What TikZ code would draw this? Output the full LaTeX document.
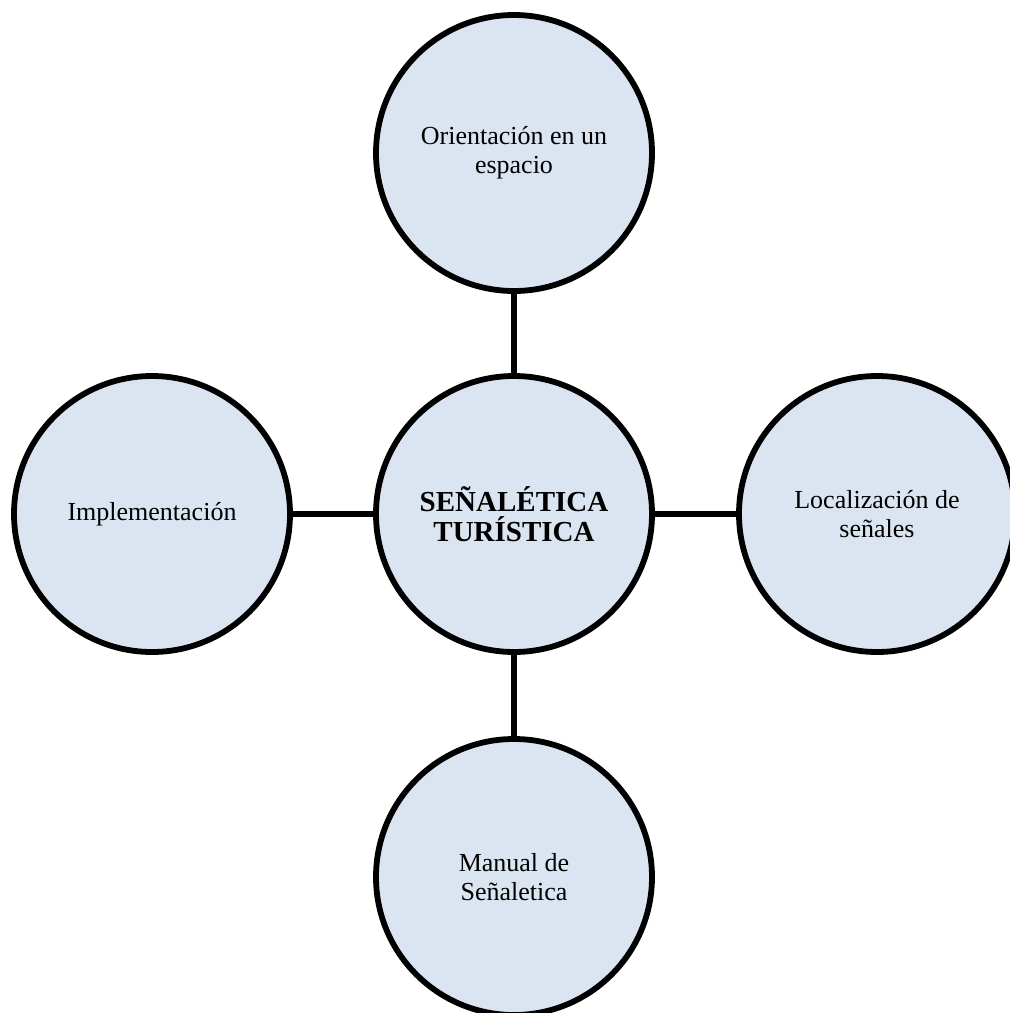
\documentclass[tikz,border=0pt]{standalone}
\usepackage{fontspec}
\setmainfont{Liberation Serif}
\usepackage{xcolor}
\usepackage{tikz}

\begin{document}
\begin{tikzpicture}[x = {(0.5pt,0pt)},
                    y = {(0pt,-0.5pt)}]


  % BOUNDING BOX
  \useasboundingbox (0, 0) rectangle (1009, 1013);


  % DEF POINTS
  \coordinate (p_center) at (514, 514);
  \coordinate (p_top) at (514, 153);
  \coordinate (p_bottom) at (514, 877);
  \coordinate (p_left) at (152, 514);
  \coordinate (p_right) at (877, 514);


  % NODES STYLE
  \definecolor{edgecolor_s}{rgb}{ 0,0,0 }
  \definecolor{facetcolor_s}{rgb}{ 0.8588,0.8980,0.9451 }
  \tikzstyle{circlestyle_s} = [circle, minimum size=138pt, inner sep=0pt, fill=facetcolor_s, draw=edgecolor_s, line width=2.9pt, align=center, font=\fontsize{13}{14.5}\selectfont]
  \tikzstyle{linkstyle_s} = [draw=edgecolor_s, line width=2.7pt]


  % NODES
  \node[circlestyle_s, font=\fontsize{14.5}{15}\selectfont\bfseries] (n_center) at (p_center) {SEÑALÉTICA\\TURÍSTICA};
  \node[circlestyle_s] (n_top) at (p_top) {Orientación en un\\espacio};
  \node[circlestyle_s] (n_bottom) at (p_bottom) {Manual de\\Señaletica};
  \node[circlestyle_s] (n_left) at (p_left) {Implementación};
  \node[circlestyle_s] (n_right) at (p_right) {Localización de\\señales};


  % EDGES
  \draw[linkstyle_s] (n_center) -- (n_top);
  \draw[linkstyle_s] (n_center) -- (n_bottom);
  \draw[linkstyle_s] (n_center) -- (n_left);
  \draw[linkstyle_s] (n_center) -- (n_right);

\end{tikzpicture}
\end{document}
